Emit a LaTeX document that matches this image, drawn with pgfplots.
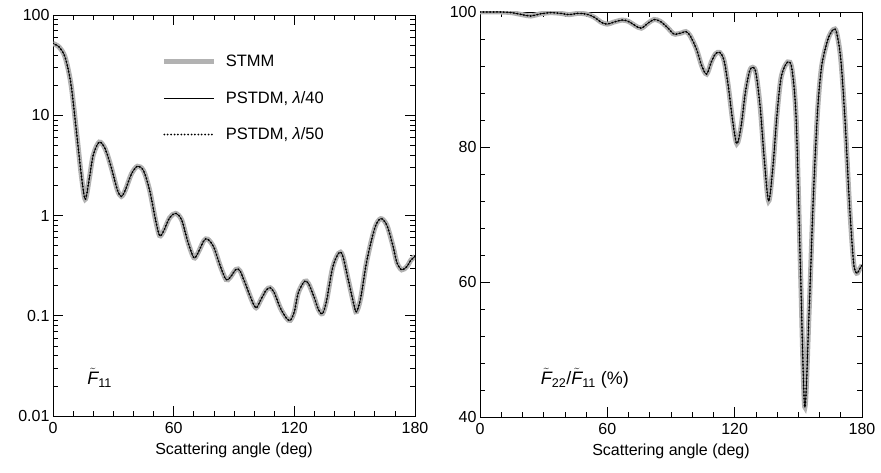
\documentclass[border=0pt]{standalone}
\usepackage{pgfplots}
\pgfplotsset{compat=1.18}
\usepackage{pgfplotstable}
\usepackage{fontspec}
\setmainfont{Liberation Sans}

\pgfplotstableread{
ang f11
0 52
3 48
6 38
9 20
12 6
14 2.6
16 1.45
18 2.3
20 4.0
23 5.4
26 4.6
29 3.0
32 1.8
34 1.55
36 1.8
39 2.6
42 3.1
45 2.8
48 1.8
51 0.9
53 0.63
55 0.7
58 0.95
61 1.05
64 0.9
67 0.55
70 0.38
72 0.42
75 0.56
77 0.58
80 0.48
83 0.32
86 0.23
88 0.24
91 0.29
93 0.28
96 0.2
99 0.14
101 0.12
103 0.14
106 0.18
108 0.19
110 0.17
113 0.12
116 0.095
118 0.09
120 0.11
122 0.17
125 0.22
127 0.21
130 0.15
132 0.115
134 0.105
136 0.14
139 0.3
142 0.42
144 0.4
147 0.22
150 0.12
151 0.11
153 0.15
156 0.35
160 0.75
163 0.93
166 0.8
169 0.5
171 0.34
173.4 0.287
176 0.31
178 0.36
180 0.39
}\leftdata

\pgfplotstableread{
ang r
0 100
5 100
10 100
15 99.9
20 99.6
24 99.4
28 99.7
33 99.9
38 99.8
42 99.6
46 99.8
50 99.7
54 99.2
57 98.5
60 98.2
63 98.5
67 98.8
70 98.6
73 98.0
76 97.6
79 98.3
82 98.9
85 98.6
88 97.8
91 96.8
92 96.7
95 96.9
97 97.1
99 96.5
102 94.5
104.5 92
106.8 90.8
109 92.6
111 93.8
113 94.0
115 92.8
117 89
119 84
121 80.5
123 83
125 88
127 91.2
128.5 91.8
130 91
132 86
134 78
136 72.0
138 77
140 85
142 90.5
145 92.6
147 91.5
149 84
151 62
153 41.5
155 55
157 72
159 85
161 92
164 96
166.5 97.4
168 97
170 93
172 84
174 72
176 63
177.5 61.3
179 62
180 62.5
}\rightdata

\pgfplotsset{
  panel/.style={
    scale only axis,
    anchor=north west,
    xmin=0, xmax=180,
    xtick={0,60,120,180},
    xticklabels={0,60,120,180},
    minor xtick={10,20,30,40,50,70,80,90,100,110,130,140,150,160,170},
    tick align=inside,
    major tick length=10pt,
    minor tick length=5pt,
    tick style={black, line width=0.6pt},
    axis line style={black, line width=0.7pt},
    font=\fontsize{16}{19}\selectfont,
    xticklabel style={yshift=-3pt},
    xlabel={Scattering angle (deg)},
    xlabel style={yshift=-2pt},
    clip=true,
  },
  stmm/.style={color=black!30, line width=5pt, smooth, tension=0.5},
  psa/.style={color=black, line width=0.6pt, smooth, tension=0.5},
  psb/.style={color=black, line width=2pt, line cap=round, dash pattern=on 0pt off 3.4pt, smooth, tension=0.5},
}

\begin{document}
\begin{tikzpicture}
\useasboundingbox (0pt,0pt) rectangle (881pt,-473pt);
\begin{axis}[panel,
  at={(53pt,-15pt)}, width=362pt, height=401pt,
  ymode=log, ymin=0.01, ymax=100,
  ytick={0.01,0.1,1,10,100},
  yticklabels={0.01,0.1,1,10,100},
  legend style={at={(0.30,0.905)}, anchor=north west, draw=none, fill=none,
    font=\fontsize{16.5}{19}\selectfont, row sep=19pt, inner sep=0pt,
    /tikz/every odd column/.append style={column sep=7pt}},
  legend cell align=left,
  legend image code/.code={\draw[#1] (0pt,0pt) -- (50pt,0pt);},
]
\addplot[stmm] table[x=ang,y=f11] {\leftdata};
\addlegendentry{STMM}
\addplot[psa] table[x=ang,y=f11] {\leftdata};
\addlegendentry{PSTDM, \textit{λ}/40}
\addplot[psb] table[x=ang,y=f11] {\leftdata};
\addlegendentry{PSTDM, \textit{λ}/50}
\node[anchor=west, font=\fontsize{18}{20}\selectfont] at (axis description cs:0.085,0.095) {$\tilde{\mbox{\itshape F}}$\textsubscript{11}};
\end{axis}

\begin{axis}[panel,
  at={(480pt,-12pt)}, width=382pt, height=405pt,
  ymin=40, ymax=100,
  ytick={40,60,80,100},
  yticklabels={40,60,80,100},
  minor ytick={44,48,52,56,64,68,72,76,84,88,92,96},
]
\addplot[stmm] table[x=ang,y=r] {\rightdata};
\addplot[psa] table[x=ang,y=r] {\rightdata};
\addplot[psb] table[x=ang,y=r] {\rightdata};
\node[anchor=west, font=\fontsize{18}{20}\selectfont] at (axis description cs:0.15,0.095) {$\tilde{\mbox{\itshape F}}$\textsubscript{22}/$\tilde{\mbox{\itshape F}}$\textsubscript{11} (\%)};
\end{axis}
\end{tikzpicture}
\end{document}
